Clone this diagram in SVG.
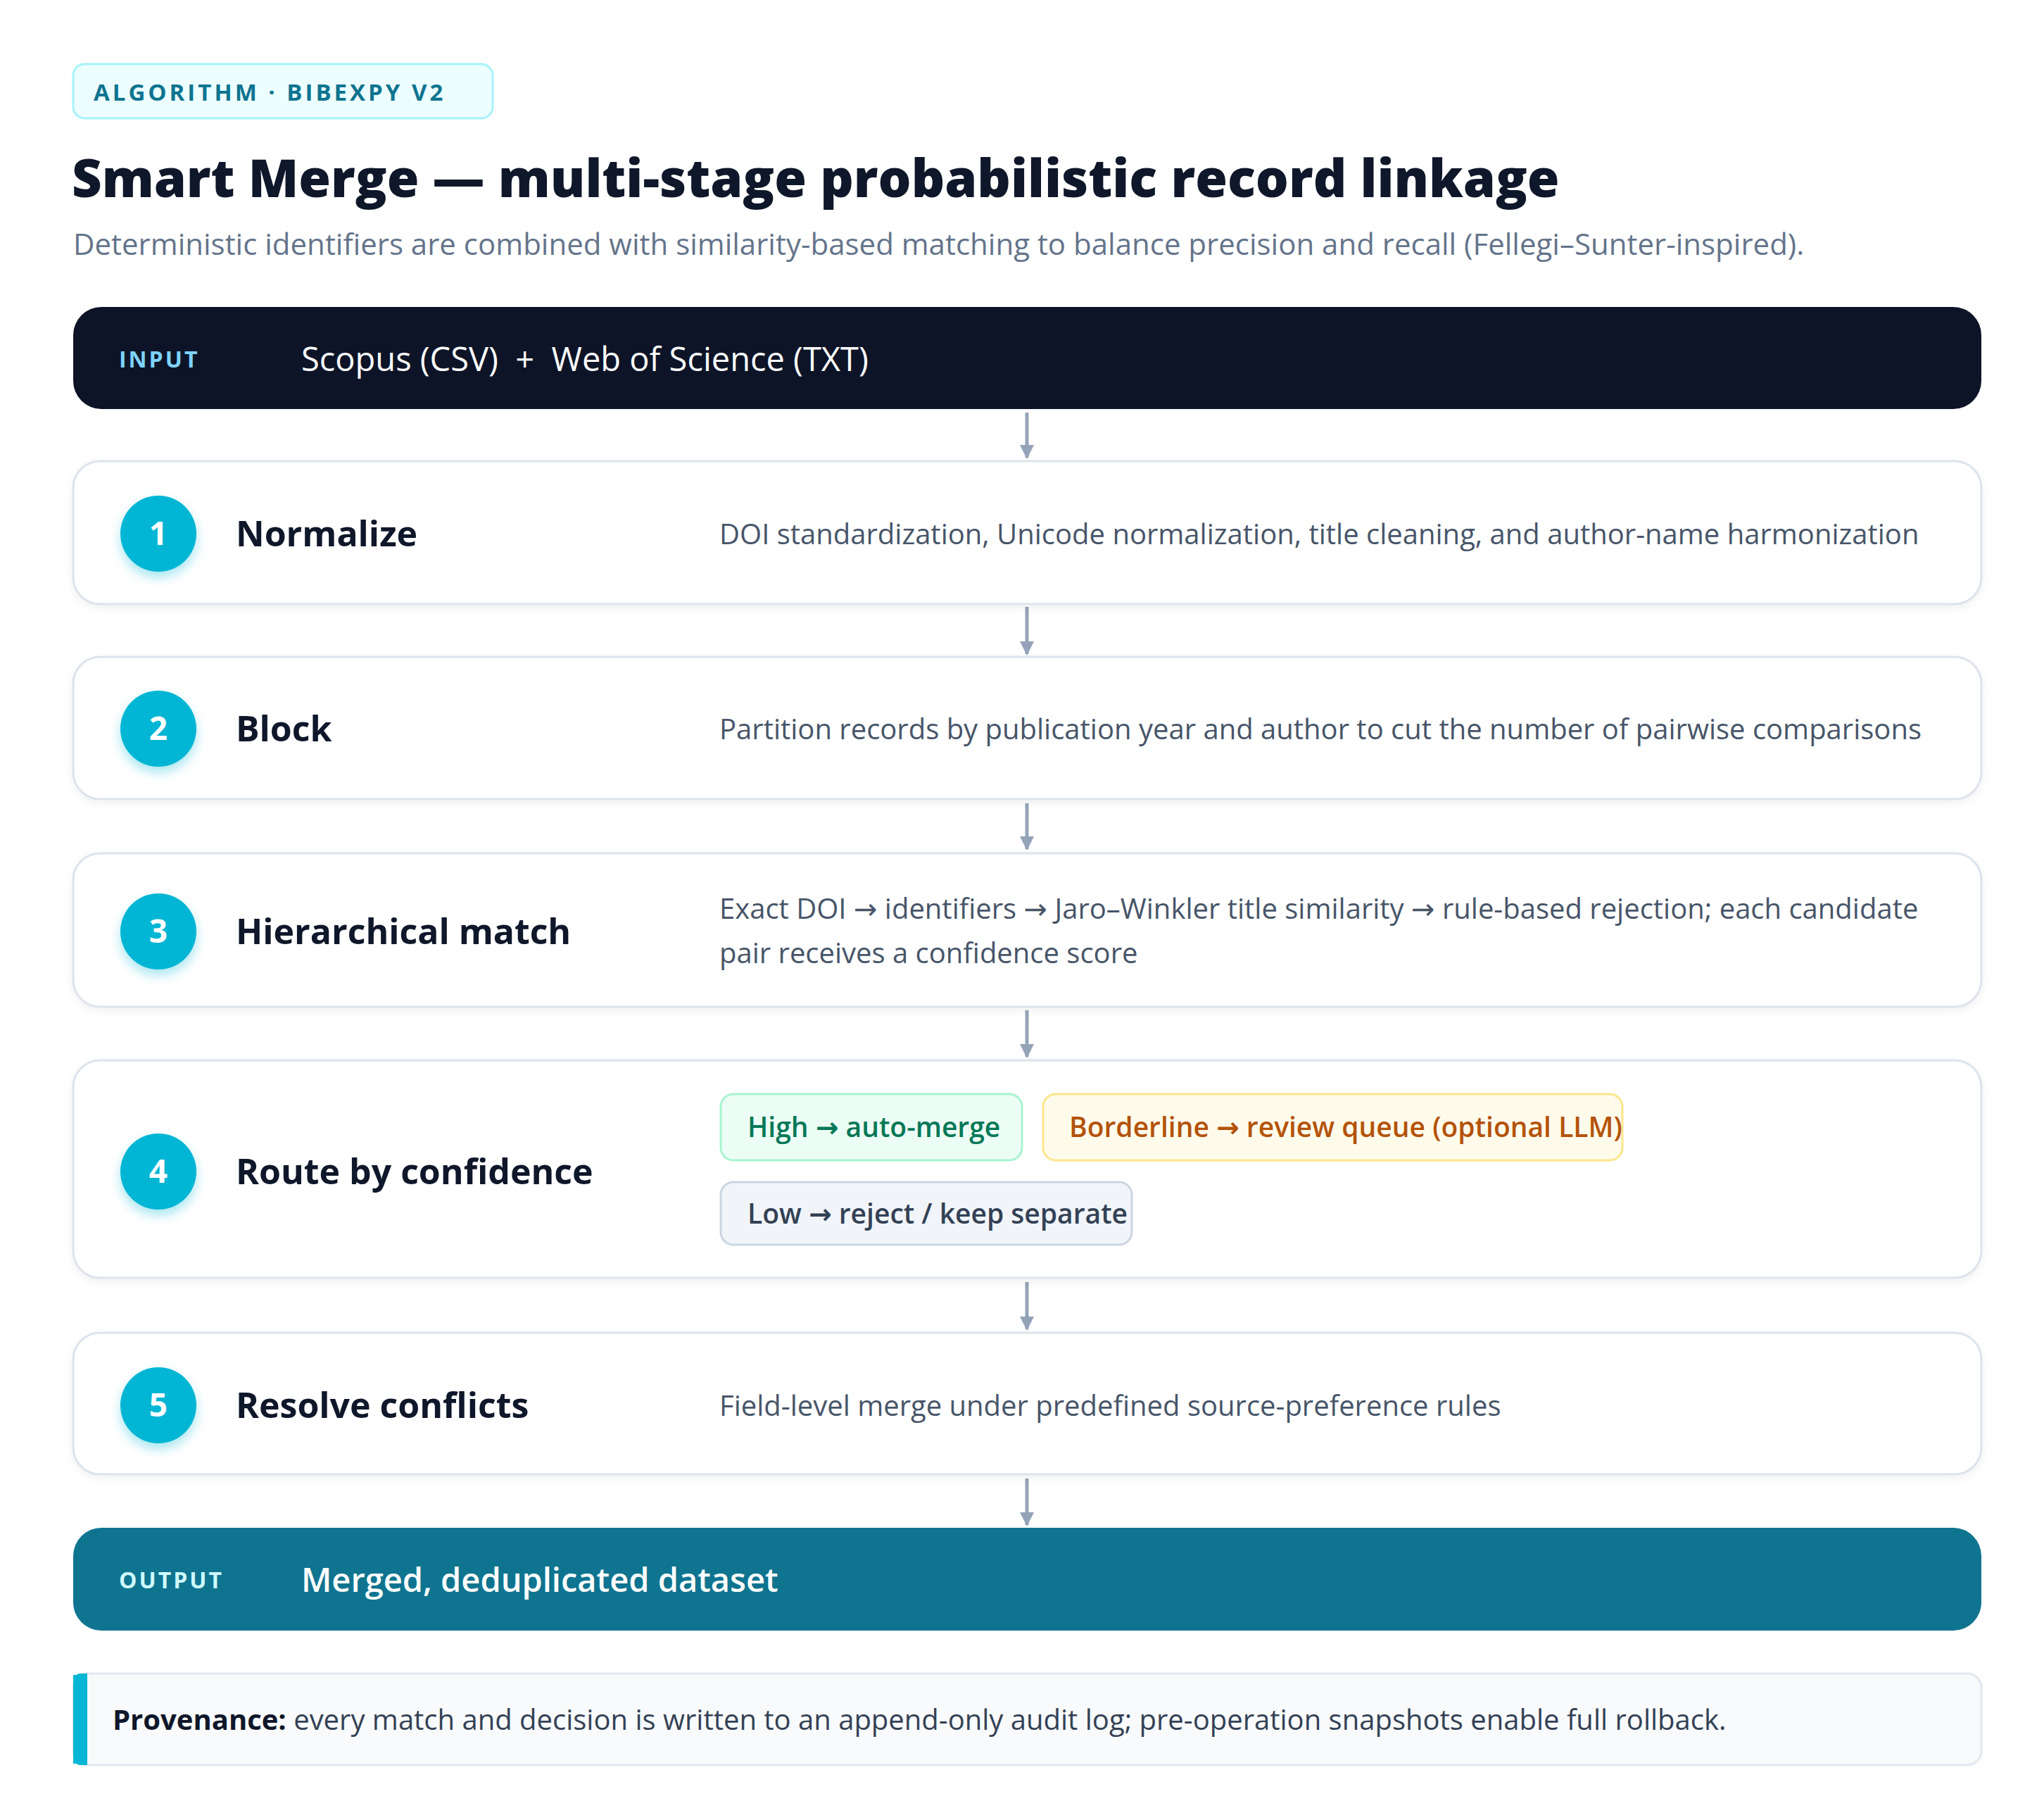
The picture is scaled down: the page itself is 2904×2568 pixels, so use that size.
<svg xmlns="http://www.w3.org/2000/svg" width="2904" height="2568" viewBox="0 0 2904 2568">
<style>
text{font-family:"Open Sans","Noto Sans","DejaVu Sans",sans-serif}
.card{fill:#fff;stroke:#dde3ec;stroke-width:3}
.num{fill:#06b6d4}
.numt{fill:#fff;font-size:46px;font-weight:700;text-anchor:middle}
.lab{fill:#0f172a;font-size:50px;font-weight:700}
.desc{fill:#475569;font-size:40px}
.conn{stroke:#94a3b8;stroke-width:5;fill:none}
.chip{font-size:39px;font-weight:600}
</style>
<defs>
<marker id="ah" viewBox="0 0 10 10" refX="9" refY="5" markerWidth="4" markerHeight="4" markerUnits="strokeWidth" orient="auto"><path d="M0 0L10 5L0 10z" fill="#94a3b8"/></marker>
<filter id="sh" x="-5%" y="-10%" width="110%" height="130%"><feDropShadow dx="0" dy="4" stdDeviation="6" flood-color="#0f172a" flood-opacity="0.06"/></filter>
<filter id="gl" x="-50%" y="-50%" width="200%" height="220%"><feDropShadow dx="0" dy="8" stdDeviation="8" flood-color="#06b6d4" flood-opacity="0.35"/></filter>
</defs>
<rect width="2904" height="2568" fill="#fff"/>
<g id="header">
<rect x="104" y="91" width="596" height="77" rx="16" fill="#ecfeff" stroke="#a5f3fc" stroke-width="3"/>
<text x="133" y="143" font-size="33" font-weight="700" fill="#0e7490" letter-spacing="4">ALGORITHM · BIBEXPY V2</text>
<text x="102" y="280" font-size="74" font-weight="800" fill="#0f172a">Smart Merge — multi-stage probabilistic record linkage</text>
<text x="104" y="362" font-size="42" fill="#64748b">Deterministic identifiers are combined with similarity-based matching to balance precision and recall (Fellegi–Sunter-inspired).</text>
</g>
<g id="connectors">
<line class="conn" x1="1459" y1="586" x2="1459" y2="650" marker-end="url(#ah)"/>
<line class="conn" x1="1459" y1="862" x2="1459" y2="929" marker-end="url(#ah)"/>
<line class="conn" x1="1459" y1="1141" x2="1459" y2="1206" marker-end="url(#ah)"/>
<line class="conn" x1="1459" y1="1435" x2="1459" y2="1501" marker-end="url(#ah)"/>
<line class="conn" x1="1459" y1="1821" x2="1459" y2="1888" marker-end="url(#ah)"/>
<line class="conn" x1="1459" y1="2100" x2="1459" y2="2166" marker-end="url(#ah)"/>
</g>
<g id="input">
<rect x="104" y="436" width="2711" height="145" rx="40" fill="#0d1427"/>
<text x="169" y="522" font-size="32" font-weight="700" fill="#7dd3fc" letter-spacing="3">INPUT</text>
<text x="428" y="527" font-size="47" font-weight="500" fill="#fff" xml:space="preserve">Scopus (CSV)  +  Web of Science (TXT)</text>
</g>
<g id="step1">
<rect class="card" x="104" y="655" width="2711" height="203" rx="38" filter="url(#sh)"/>
<circle class="num" cx="225" cy="758" r="54" filter="url(#gl)"/>
<text class="numt" x="225" y="774">1</text>
<text class="lab" x="335" y="776">Normalize</text>
<text class="desc" x="1022" y="773">DOI standardization, Unicode normalization, title cleaning, and author-name harmonization</text>
</g>
<g id="step2">
<rect class="card" x="104" y="933" width="2711" height="202" rx="38" filter="url(#sh)"/>
<circle class="num" cx="225" cy="1035" r="54" filter="url(#gl)"/>
<text class="numt" x="225" y="1051">2</text>
<text class="lab" x="335" y="1053">Block</text>
<text class="desc" x="1022" y="1050">Partition records by publication year and author to cut the number of pairwise comparisons</text>
</g>
<g id="step3">
<rect class="card" x="104" y="1212" width="2711" height="218" rx="38" filter="url(#sh)"/>
<circle class="num" cx="225" cy="1323" r="54" filter="url(#gl)"/>
<text class="numt" x="225" y="1339">3</text>
<text class="lab" x="335" y="1341">Hierarchical match</text>
<text class="desc" x="1022" y="1305">Exact DOI → identifiers → Jaro–Winkler title similarity → rule-based rejection; each candidate</text>
<text class="desc" x="1022" y="1368">pair receives a confidence score</text>
</g>
<g id="step4">
<rect class="card" x="104" y="1506" width="2711" height="309" rx="38" filter="url(#sh)"/>
<circle class="num" cx="225" cy="1664" r="54" filter="url(#gl)"/>
<text class="numt" x="225" y="1680">4</text>
<text class="lab" x="335" y="1682">Route by confidence</text>
<rect x="1024" y="1554" width="428" height="94" rx="18" fill="#ecfdf5" stroke="#a7f3d0" stroke-width="3"/>
<text class="chip" x="1062" y="1615" fill="#047857">High → auto-merge</text>
<rect x="1482" y="1554" width="823" height="94" rx="18" fill="#fffbeb" stroke="#fde68a" stroke-width="3"/>
<text class="chip" x="1519" y="1615" fill="#b45309">Borderline → review queue (optional LLM)</text>
<rect x="1024" y="1679" width="584" height="89" rx="18" fill="#f1f5f9" stroke="#cbd5e1" stroke-width="3"/>
<text class="chip" x="1062" y="1738" fill="#334155">Low → reject / keep separate</text>
</g>
<g id="step5">
<rect class="card" x="104" y="1893" width="2711" height="201" rx="38" filter="url(#sh)"/>
<circle class="num" cx="225" cy="1996" r="54" filter="url(#gl)"/>
<text class="numt" x="225" y="2012">5</text>
<text class="lab" x="335" y="2014">Resolve conflicts</text>
<text class="desc" x="1022" y="2011">Field-level merge under predefined source-preference rules</text>
</g>
<g id="output">
<rect x="104" y="2170" width="2711" height="146" rx="40" fill="#0f7490"/>
<text x="169" y="2256" font-size="32" font-weight="700" fill="#cffafe" letter-spacing="3">OUTPUT</text>
<text x="428" y="2261" font-size="47" font-weight="600" fill="#fff">Merged, deduplicated dataset</text>
</g>
<g id="provenance">
<rect x="104" y="2377" width="2711" height="130" rx="20" fill="#f8fafc" stroke="#e2e8f0" stroke-width="3"/>
<path d="M124 2377 H114 Q104 2377 104 2397 V2487 Q104 2507 114 2507 H124 Z" fill="#06b6d4"/>
<rect x="104" y="2379" width="10" height="126" fill="#06b6d4"/>
<text x="160" y="2457" font-size="40" fill="#334155"><tspan font-weight="700" fill="#0f172a">Provenance:</tspan> every match and decision is written to an append-only audit log; pre-operation snapshots enable full rollback.</text>
</g>
</svg>
